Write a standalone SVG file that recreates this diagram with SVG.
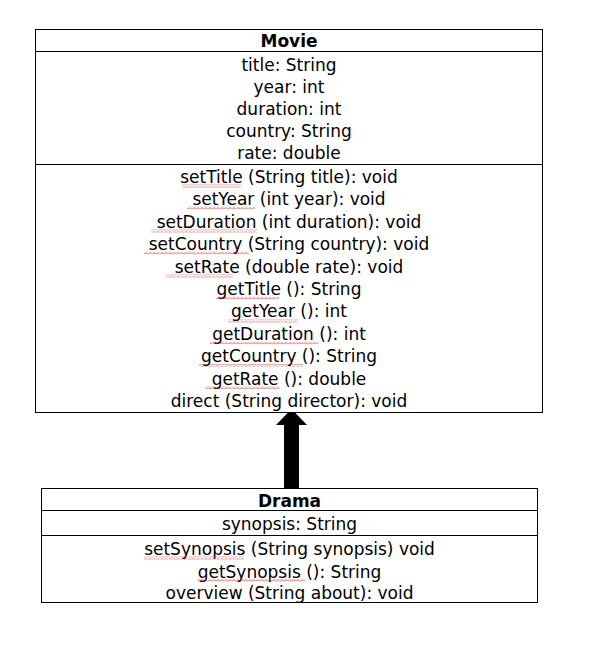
<svg xmlns="http://www.w3.org/2000/svg" width="589" height="646" viewBox="0 0 589 646">
<style>
.box{fill:#fff;stroke:#000;stroke-width:1}
.div{stroke:#000;stroke-width:1}
.t{font-family:"DejaVu Sans","Liberation Sans",sans-serif;font-size:17px;fill:#000;text-anchor:middle}
.b{font-weight:bold}
.sq{fill:url(#wave)}
</style>
<defs>
<pattern id="wave" patternUnits="userSpaceOnUse" width="4" height="3">
<path d="M0 2.5 L2 0.5 L4 2.5" fill="none" stroke="#e02020" stroke-width="0.8"/>
</pattern>
</defs>
<rect width="589" height="646" fill="#fff"/>
<g id="connectors">
<polygon points="284,488 299,488 299,425 307,425 291.5,409 276,425 284,425" fill="#000"/>
</g>
<g id="movie">
<rect class="box" x="35.5" y="29.5" width="507" height="383"/>
<line class="div" x1="35.5" y1="51.5" x2="542.5" y2="51.5"/>
<line class="div" x1="35.5" y1="164.5" x2="542.5" y2="164.5"/>
<text class="t b" x="289" y="47">Movie</text>
<text class="t" x="289" y="71">title: String</text>
<text class="t" x="289" y="93">year: int</text>
<text class="t" x="289" y="115">duration: int</text>
<text class="t" x="289" y="137">country: String</text>
<text class="t" x="289" y="159">rate: double</text>
<text class="t" x="289" y="183">setTitle (String title): void</text>
<text class="t" x="289" y="205.4">setYear (int year): void</text>
<text class="t" x="289" y="227.8">setDuration (int duration): void</text>
<text class="t" x="289" y="250.2">setCountry (String country): void</text>
<text class="t" x="289" y="272.6">setRate (double rate): void</text>
<text class="t" x="289" y="295">getTitle (): String</text>
<text class="t" x="289" y="317.4">getYear (): int</text>
<text class="t" x="289" y="339.8">getDuration (): int</text>
<text class="t" x="289" y="362.2">getCountry (): String</text>
<text class="t" x="289" y="384.6">getRate (): double</text>
<text class="t" x="289" y="407">direct (String director): void</text>
<rect class="sq" x="182" y="184.5" width="59" height="3"/>
<rect class="sq" x="187" y="206.5" width="68" height="3"/>
<rect class="sq" x="151" y="229.5" width="106" height="3"/>
<rect class="sq" x="144" y="251.5" width="105" height="3"/>
<rect class="sq" x="166" y="274.5" width="67" height="3"/>
<rect class="sq" x="216" y="296.5" width="63" height="3"/>
<rect class="sq" x="228" y="319.5" width="70" height="3"/>
<rect class="sq" x="210" y="341.5" width="108" height="3"/>
<rect class="sq" x="199" y="364" width="104" height="3"/>
<rect class="sq" x="205.5" y="386" width="74" height="3"/>
</g>
<g id="drama">
<rect class="box" x="41.5" y="488.5" width="496" height="114"/>
<line class="div" x1="41.5" y1="510.5" x2="537.5" y2="510.5"/>
<line class="div" x1="41.5" y1="535.5" x2="537.5" y2="535.5"/>
<text class="t b" x="289.5" y="506.5">Drama</text>
<text class="t" x="289.5" y="530">synopsis: String</text>
<text class="t" x="289.5" y="555">setSynopsis (String synopsis) void</text>
<text class="t" x="289.5" y="577.5">getSynopsis (): String</text>
<text class="t" x="289.5" y="598.5">overview (String about): void</text>
<rect class="sq" x="144" y="556.5" width="100" height="3"/>
<rect class="sq" x="197.5" y="579" width="108" height="3"/>
</g>
</svg>
